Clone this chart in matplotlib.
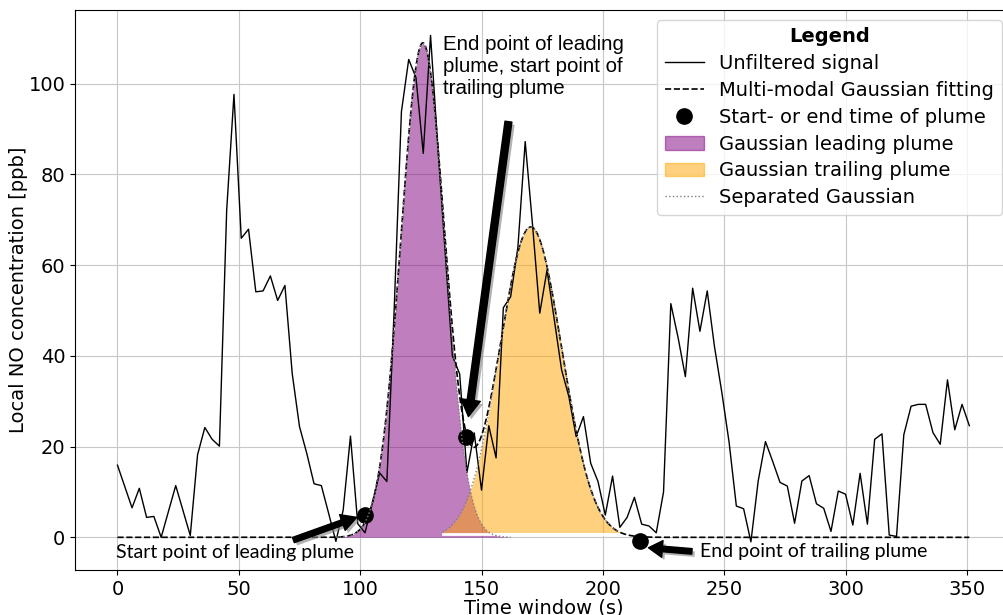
import matplotlib
matplotlib.use("Agg")
import matplotlib.pyplot as plt
import matplotlib.patheffects as pe
from matplotlib.lines import Line2D
from matplotlib.patches import Patch
import numpy as np

# raw signal, one sample every 3 s
t = np.arange(0, 352, 3)
signal = [15.9, 11.2, 6.5, 10.8, 4.4, 4.6, 0.0, 5.7, 11.4, 5.9,
          0.4, 18.2, 24.2, 21.6, 20.1, 72.1, 97.6, 65.9, 67.9, 54.1,
          54.3, 57.6, 52.2, 55.5, 36.1, 24.4, 18.5, 11.8, 11.4, 5.3,
          -0.9, 6.0, 22.3, 3.0, 1.0, 7.5, 14.2, 12.3, 50.0, 93.8,
          105.3, 101.3, 84.6, 110.6, 86.0, 63.0, 40.0, 36.0, 14.3, 23.0,
          10.4, 24.6, 17.5, 50.6, 53.0, 64.0, 87.2, 69.0, 49.4, 58.9,
          47.9, 36.9, 31.0, 22.2, 26.6, 16.3, 12.3, 4.9, 13.5, 2.2,
          4.4, 8.8, 2.9, 2.5, 1.0, 10.0, 51.5, 44.0, 35.4, 54.9,
          45.4, 54.3, 42.0, 32.0, 21.0, 6.9, 6.3, -1.0, 12.4, 21.1,
          16.7, 12.1, 11.3, 3.1, 12.4, 13.6, 7.4, 6.4, 1.3, 10.2,
          9.5, 2.7, 14.1, 2.9, 21.6, 22.8, 0.5, 0.2, 22.6, 28.9,
          29.3, 29.3, 23.1, 20.5, 34.7, 23.7, 29.3, 24.6]

# fitted gaussian components (amplitude, centre, sigma)
lead = (108.8, 125.8, 9.0)
trail = (68.4, 170.3, 12.8)
lead_window = (90, 162)
trail_window = (134, 207)

# plume start / end points
plume_t = [102, 143.7, 215.3]
plume_c = [4.9, 22.1, -0.8]


def gauss(x, a, mu, sig):
    return a * np.exp(-(x - mu) ** 2 / (2 * sig ** 2))


xf = np.linspace(0, 351, 1500)
fit = gauss(xf, *lead) + gauss(xf, *trail)
xl = np.linspace(*lead_window, 400)
xt = np.linspace(*trail_window, 400)
gl = gauss(xl, *lead)
gt = gauss(xt, *trail)

fig = plt.figure(figsize=(10.04, 6.15), dpi=100)
ax = fig.add_axes([75 / 1004, 1 - 570 / 615, 936.8 / 1004, 560 / 615])

ax.fill_between(xl, gl, 0, color='purple', alpha=0.5, lw=0, zorder=2)
ax.fill_between(xt, gt, 1.0, where=gt > 1.0, color='orange', alpha=0.5, lw=0, zorder=2.1)
ax.plot(xt, np.full_like(xt, 0.75), color='white', lw=2, zorder=2.2)
ax.plot(plume_t, plume_c, 'o', color='black', ms=11, zorder=3)
ax.plot(t, signal, color='black', lw=1, zorder=4)
ax.plot(xf, fit, '--', color='black', lw=1.2, zorder=5)
ax.plot(xl, gl, ':', color='gray', lw=1, zorder=6)
ax.plot(xt, gt, ':', color='gray', lw=1, zorder=6)

ax.set_xlim(-17.5, 368.5)
ax.set_ylim(-7.2, 116.2)
ax.grid(True, color='#c8c8c8')
ax.set_axisbelow(True)
ax.tick_params(labelsize=14)
ax.set_xlabel('Time window (s)', fontsize=14, labelpad=0)
ax.set_ylabel('Local NO concentration [ppb]', fontsize=14, labelpad=0)

shadow = [pe.withSimplePatchShadow(offset=(2, -2), shadow_rgbFace='gray', alpha=0.6)]
arrows = [((72.5, -0.6), (98.6, 4.4), 4, 12, 11),
          ((161.1, 91.6), (144.6, 26.6), 5, 14, 12),
          ((236.7, -3.1), (218.8, -2.3), 4, 12, 10)]
for tail, tip, w, hw, hl in arrows:
    ax.annotate('', xy=tip, xytext=tail,
                arrowprops=dict(facecolor='black', edgecolor='black', width=w,
                                headwidth=hw, headlength=hl, shrink=0,
                                path_effects=shadow), zorder=7)

ax.text(134.2, 110.8, 'End point of leading\nplume, start point of\ntrailing plume',
        fontsize=14.8, family='Liberation Sans', va='top', ha='left', zorder=8)
ax.text(-0.5, -3.4, 'Start point of leading plume', fontsize=14, family='Lato',
        va='center', ha='left', zorder=8)
ax.text(240, -3.2, 'End point of trailing plume', fontsize=14, family='Lato',
        va='center', ha='left', zorder=8)

handles = [Line2D([], [], color='black', lw=1),
           Line2D([], [], color='black', ls='--', lw=1.2),
           Line2D([], [], color='black', marker='o', ls='none', ms=11),
           Patch(color='purple', alpha=0.5),
           Patch(color='orange', alpha=0.5),
           Line2D([], [], color='gray', ls=':', lw=1)]
labels = ['Unfiltered signal', 'Multi-modal Gaussian fitting', 'Start- or end time of plume',
          'Gaussian leading plume', 'Gaussian trailing plume', 'Separated Gaussian']
leg = ax.legend(handles, labels, loc='upper right', fontsize=14, labelspacing=0.4,
                title='Legend', title_fontproperties={'weight': 'bold', 'size': 14})

fig.savefig('out.png', dpi=100)
